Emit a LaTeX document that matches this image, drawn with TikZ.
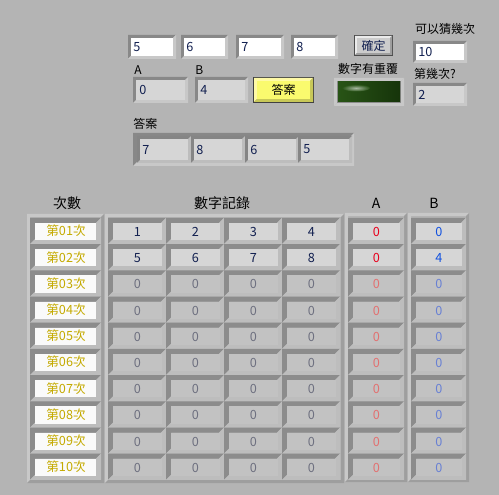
\documentclass[tikz,border=0pt]{standalone}
\usepackage{fontspec}
\setmainfont{Noto Sans CJK TC}
\usepackage{tikz}
\usetikzlibrary{positioning}

\definecolor{panel}{RGB}{180,180,180}
\definecolor{edgedark}{RGB}{136,136,136}
\definecolor{edgelight}{RGB}{200,200,200}
\definecolor{framefill}{RGB}{166,166,166}
\definecolor{cellon}{RGB}{214,214,214}
\definecolor{celloff}{RGB}{194,194,194}
\definecolor{numtxt}{RGB}{18,32,80}
\definecolor{offtxt}{RGB}{110,112,128}
\definecolor{gold}{RGB}{196,170,0}
\definecolor{ared}{RGB}{232,0,28}
\definecolor{aredoff}{RGB}{226,112,112}
\definecolor{bblue}{RGB}{16,80,224}
\definecolor{bblueoff}{RGB}{104,128,212}
\definecolor{btnyellow}{RGB}{250,250,110}
\definecolor{ledgreen}{RGB}{40,84,22}
\definecolor{leddark}{RGB}{22,52,10}

% bevel: x1 y1 x2 y2 width topleft bottomright
\newcommand{\bevelbox}[7]{%
  \fill[#6] (#1,#2) -- (#3,#2) -- ({#3-#5},{#2+#5}) -- ({#1+#5},{#2+#5})
    -- ({#1+#5},{#4-#5}) -- (#1,#4) -- cycle;
  \fill[#7] (#3,#2) -- (#3,#4) -- (#1,#4) -- ({#1+#5},{#4-#5})
    -- ({#3-#5},{#4-#5}) -- ({#3-#5},{#2+#5}) -- cycle;
}
% sunken field with inner fill
\newcommand{\field}[5]{%
  \bevelbox{#1}{#2}{#3}{#4}{3}{edgedark}{edgelight}
  \fill[#5] ({#1+3},{#2+3}) rectangle ({#3-3},{#4-3});
}

\tikzset{
  lab/.style={inner sep=0pt, text=black, font=\fontsize{9}{10}\selectfont},
  head/.style={inner sep=0pt, text=black, font=\fontsize{10.5}{12}\selectfont},
  num/.style={inner sep=0pt, text=numtxt, font=\fontsize{9.5}{11}\selectfont},
  numoff/.style={num, text=offtxt},
  rowlab/.style={num, text=gold},
}

\begin{document}
\begin{tikzpicture}[x=0.75pt, y=-0.75pt]
\fill[panel] (0,0) rectangle (499,495);
\useasboundingbox (0,0) rectangle (499,495);

\begin{scope}
    % 猜的四個數字
    \field{128}{35}{176}{59}{white}
    \field{181}{35}{228}{59}{white}
    \field{236}{35}{284}{59}{white}
    \field{291}{35}{338}{59}{white}
    \node[num, anchor=west] (g1) at (133,47) {5};
    \node[num, anchor=west] (g2) at (186,47) {6};
    \node[num, anchor=west] (g3) at (241,47) {7};
    \node[num, anchor=west] (g4) at (296,47) {8};

    % 確定按鈕
    \fill[black!70] (354,35) rectangle (393,56);
    \bevelbox{355}{36}{392}{55}{2}{white!92!black}{black!38}
    \fill[black!20] (357,38) rectangle (390,53);
    \node[lab, text=numtxt] (ok) at (373.5,45.5) {確定};

    % 可以猜幾次 / 第幾次
    \node[lab] (maxlab) at (445,29) {可以猜幾次};
    \field{413}{41}{467}{63}{white}
    \node[num, anchor=west] (maxn) at (418,52) {10};
    \node[lab] (cntlab) at (435,74) {第幾次?};
    \field{413}{83}{467}{106}{cellon}
    \node[num, anchor=west] (cntn) at (418,94.5) {2};
\end{scope}

\begin{scope}
    % 數字有重覆 指示燈
    \node[lab] (duplab) at (368,69) {數字有重覆};
    \bevelbox{334}{78}{404}{106}{4}{edgelight}{edgelight}
    \fill[black!45] (337,81) rectangle (401,103);
    \shade[left color=ledgreen, right color=leddark] (338,82) rectangle (400,102);
    \shade[inner color=white!75!ledgreen, outer color=ledgreen, opacity=0.8]
      (356,88) ellipse (14 and 3.5);

    % A B 結果
    \node[lab, anchor=west] (alab) at (134,70) {A};
    \node[lab, anchor=west] (blab) at (195,70) {B};
    \field{133}{77}{188}{103}{cellon}
    \field{195}{77}{248}{103}{cellon}
    \node[num, anchor=west] (an) at (139,90) {0};
    \node[num, anchor=west] (bn) at (200,90) {4};

    % 答案按鈕
    \fill[black!75] (253,77) rectangle (314,103);
    \bevelbox{254}{78}{313}{102}{3}{yellow!35!white}{btnyellow!80!black}
    \fill[btnyellow] (257,81) rectangle (310,99);
    \node[lab] (ansbtn) at (283.5,90) {答案};
\end{scope}

\begin{scope}
    % 答案陣列
    \node[lab, anchor=west] (anslab) at (133,124) {答案};
    \bevelbox{133}{133}{354}{166}{4}{edgedark}{edgelight}
    \fill[framefill] (137,137) rectangle (350,162);
    \foreach \x/\w [count=\k] in {137/7,191/8,245/6,298/5}{
      \bevelbox{\x}{136}{\x+54}{163}{3}{black!48}{black!26}
      \fill[cellon] ({\x+3},139) rectangle ({\x+51},160);
      \node[num, anchor=west] (ans\k) at ({\x+5},149.5) {\w};
    }
\end{scope}

\begin{scope}
    % 表頭
    \node[head] (hcnt) at (67,203) {次數};
    \node[head] (hdig) at (222,203) {數字記錄};
    \node[head] (ha) at (376,203) {A};
    \node[head] (hb) at (434,203) {B};

    % 外框
    \bevelbox{27}{214}{104}{483}{3}{edgelight}{black!38}
    \bevelbox{105}{214}{344}{483}{3}{edgelight}{black!38}
    \bevelbox{345}{213}{407}{482}{3}{edgelight}{black!38}
    \bevelbox{408}{213}{469}{482}{3}{edgelight}{black!38}

    % 每一列的格子
    \foreach \i in {1,...,10}{
      \pgfmathsetmacro{\yt}{217.9+(\i-1)*26.2}
      \pgfmathsetmacro{\yb}{\yt+26.2}
      \pgfmathsetmacro{\yc}{\yt+13.1}
      \ifnum\i<3 \def\cf{cellon}\else\def\cf{celloff}\fi
      \bevelbox{30}{\yt}{101}{\yb}{5}{black!45}{black!26}
      \fill[white!98!black] (35,{\yt+5}) rectangle (96,{\yb-4});
      \node[rowlab] (r\i) at (66,\yc) {第\ifnum\i<10 0\fi\i{}次};
      \foreach \j in {0,...,3}{
        \bevelbox{108+\j*58}{\yt}{166+\j*58}{\yb}{5}{black!45}{black!26}
        \fill[\cf] ({113+\j*58},{\yt+5}) rectangle ({162+\j*58},{\yb-4});
      }
      \bevelbox{348}{\yt}{404}{\yb}{5}{black!45}{black!26}
      \fill[\cf] (353,{\yt+5}) rectangle (400,{\yb-4});
      \bevelbox{411}{\yt}{466}{\yb}{5}{black!45}{black!26}
      \fill[\cf] (416,{\yt+5}) rectangle (462,{\yb-4});
    }

    % 第一、二次的紀錄
    \node[num] (d11) at (137.5,232) {1};
    \node[num] (d12) at (195.5,232) {2};
    \node[num] (d13) at (253.5,232) {3};
    \node[num] (d14) at (311.5,232) {4};
    \node[num] (d21) at (137.5,258) {5};
    \node[num] (d22) at (195.5,258) {6};
    \node[num] (d23) at (253.5,258) {7};
    \node[num] (d24) at (311.5,258) {8};
    \node[num, text=ared] (a1) at (376.5,232) {0};
    \node[num, text=ared] (a2) at (376.5,258) {0};
    \node[num, text=bblue] (b1) at (439,232) {0};
    \node[num, text=bblue] (b2) at (439,258) {4};

    % 還沒猜的列
    \foreach \i in {3,...,10}{
      \pgfmathsetmacro{\yc}{232+(\i-1)*26.2}
      \foreach \j/\x in {1/137.5,2/195.5,3/253.5,4/311.5}
        \node[numoff] (d\i\j) at (\x,\yc) {0};
      \node[numoff, text=aredoff] (a\i) at (376.5,\yc) {0};
      \node[numoff, text=bblueoff] (b\i) at (439,\yc) {0};
    }
\end{scope}
\end{tikzpicture}
\end{document}
